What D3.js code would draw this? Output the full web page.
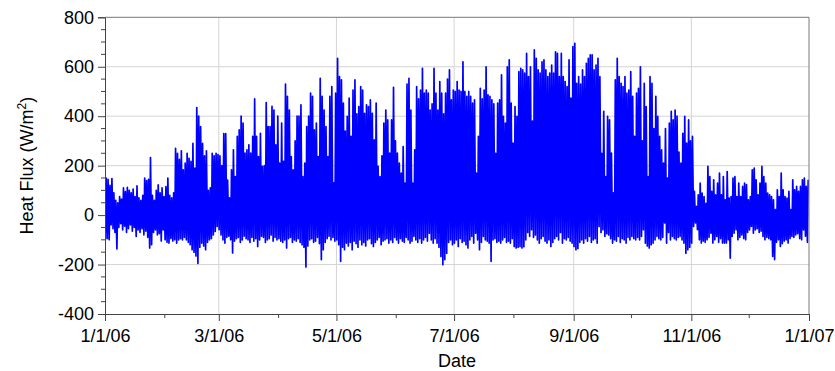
<!DOCTYPE html>
<html><head><meta charset="utf-8">
<script src="https://cdn.jsdelivr.net/npm/d3@7"></script>
<style>body{margin:0;background:#fff} svg{display:block}</style>
</head><body><svg id="c" width="835" height="371"></svg>
<script>
// Daily maximum heat flux (W/m2), 1/1/06 .. 12/31/06
const dailyMax = [
 // Jan
 150,145,120,148,90,60,50,75,65,110, 95,112,100,90,105,75,118,70,60,80, 150,140,145,233,80,60,100,122,90,110, 75,
 // Feb
 115,150,80,70,90,270,250,225,260,183, 210,250,230,217,290,190,435,400,358,290, 240,260,100,110,250,240,250,245,
 // Mar
 240,200,330,330,142,70,183,264,156,318, 345,400,372,251,264,284,251,318,470,318, 237,331,197,200,455,358,358,440,425,284, 400,
 // Apr
 210,372,217,530,480,425,237,183,300,400, 400,446,156,210,358,400,493,480,345,372, 237,553,480,425,358,237,480,520,130,493,
 // May
 634,560,547,453,340,399,473,318,506,547, 410,439,520,506,412,446,439,466,412,304, 453,197,156,240,372,425,385,251,385,517, 300,
 // Jun
 251,210,170,277,129,530,553,425,129,264, 520,470,506,594,493,506,493,425,450,594, 493,425,540,493,410,493,550,587,466,506,
 // Jul
 500,540,506,500,620,500,480,500,480,453, 466,170,318,513,470,506,600,486,480,466, 450,250,453,466,567,399,372,600,628,453, 291,
 // Aug
 439,399,580,594,587,574,654,560,600,380, 668,634,587,574,620,628,587,560,574,607, 574,660,654,560,654,560,540,520,628,473, 681,
 // Sep
 695,533,560,530,587,560,614,634,648,648, 587,607,634,560,250,420,156,399,385,251, 90,547,634,560,533,520,560,493,506,580,
 // Oct
 480,318,493,513,600,300,533,439,156,560, 533,350,480,399,318,264,210,350,150,372, 420,385,425,400,255,210,331,399,291,385, 300,
 // Nov
 318,96,35,82,129,89,75,48,197,156, 96,143,82,129,170,82,156,62,176,69, 75,150,156,75,129,75,116,129,123,62,
 // Dec
 75,183,190,143,82,129,197,156,129,89, 82,75,62,22,102,75,170,102,75,69, 96,22,143,102,116,96,116,143,150,116, 143
];
// Daily minimum heat flux (W/m2)
const dailyMin = [
 // Jan
 -100,-95,-100,-40,-55,-70,-137,-50,-35,-60, -45,-70,-55,-40,-65,-50,-86,-60,-70,-55, -80,-65,-90,-133,-120,-70,-60,-80,-75,-105, -60,
 // Feb
 -100,-110,-113,-95,-105,-100,-113,-100,-95,-100, -90,-100,-110,-120,-140,-150,-165,-195,-130,-113, -125,-140,-110,-100,-95,-80,-66,-46,
 // Mar
 -59,-80,-100,-113,-90,-85,-100,-153,-105,-95, -90,-110,-100,-85,-95,-100,-110,-90,-105,-95, -127,-100,-85,-90,-110,-100,-95,-80,-105,-90, -100,
 // Apr
 -95,-105,-110,-100,-133,-95,-90,-110,-100,-105, -95,-110,-120,-130,-210,-125,-100,-95,-110,-105, -90,-115,-180,-140,-110,-95,-85,-100,-90,-105,
 // May
 -100,-120,-187,-130,-140,-113,-125,-110,-140,-105, -115,-130,-100,-120,-110,-125,-100,-95,-115,-127, -110,-100,-90,-120,-105,-100,-95,-113,-100,-110, -90,
 // Jun
 -100,-113,-95,-105,-110,-90,-100,-113,-105,-86, -100,-110,-95,-113,-100,-90,-105,-73,-100,-113, -95,-113,-130,-167,-200,-180,-154,-110,-100,-120,
 // Jul
 -113,-100,-127,-95,-110,-105,-120,-133,-100,-86, -113,-73,-100,-140,-110,-86,-100,-105,-113,-187, -100,-95,-110,-105,-113,-100,-90,-110,-105,-113, -95,
 // Aug
 -127,-133,-130,-127,-133,-128,-100,-70,-86,-59, -90,-80,-100,-113,-95,-86,-105,-113,-100,-127, -110,-95,-86,-100,-70,-113,-95,-100,-90,-105, -113,
 // Sep
 -127,-140,-135,-110,-100,-113,-95,-105,-86,-110, -100,-95,-113,-46,-70,-59,-86,-75,-80,-95, -113,-100,-105,-86,-110,-95,-100,-113,-90,-100,
 // Oct
 -86,-95,-100,-90,-100,-86,-59,-113,-125,-133, -120,-113,-100,-86,-95,-100,-90,-32,-113,-70, -100,-86,-95,-100,-90,-86,-100,-113,-154,-140, -130,
 // Nov
 -113,-46,-32,-59,-100,-113,-105,-110,-100,-90, -73,-113,-100,-86,-110,-95,-113,-113,-113,-100, -174,-86,-73,-59,-100,-90,-80,-95,-100,-70,
 // Dec
 -60,-46,-73,-60,-55,-70,-65,-86,-100,-90, -95,-100,-167,-180,-110,-100,-127,-115,-105,-100, -113,-95,-86,-90,-80,-75,-95,-100,-60,-85, -110
];
const yTickValues = [-400, -200, 0, 200, 400, 600, 800];
const xTickDates = ["2006-01-01","2006-03-01","2006-05-01","2006-07-01","2006-09-01","2006-11-01","2007-01-01"];
const xTickLabels = ["1/1/06","3/1/06","5/1/06","7/1/06","9/1/06","11/1/06","1/1/07"];
const xMinorDates = ["2006-02-01","2006-04-01","2006-06-01","2006-08-01","2006-10-01","2006-12-01"];
const yLabel = "Heat Flux (W/m";
const xLabel = "Date";

(function () {
const svg = d3.select("#c");
const pL = 105, pR = 809, pT = 17.3, pB = 314;
const font = "'Liberation Sans', Arial, sans-serif";
const start = new Date(Date.UTC(2006, 0, 1));
const x = d3.scaleUtc().domain([start, new Date(Date.UTC(2007, 0, 1))]).range([pL, pR]);
const y = d3.scaleLinear().domain([-400, 800]).range([pB, pT]);

// grid
const g = svg.append("g");
g.selectAll("line.hg").data(yTickValues.filter(v => v > -400 && v < 800)).join("line")
  .attr("x1", pL).attr("x2", pR).attr("y1", d => y(d)).attr("y2", d => y(d))
  .attr("stroke", "#d4d4d4").attr("stroke-width", 1);
g.selectAll("line.vg").data(xTickDates.slice(1, -1)).join("line")
  .attr("x1", d => x(new Date(d))).attr("x2", d => x(new Date(d)))
  .attr("y1", pT).attr("y2", pB)
  .attr("stroke", "#d4d4d4").attr("stroke-width", 1);

// data path: for each day a nighttime min and a midday max
const pts = [];
dailyMin.forEach((v, i) => {
  const day = d3.utcDay.offset(start, i);
  pts.push([d3.utcHour.offset(day, 4), v]);
  pts.push([d3.utcHour.offset(day, 14), dailyMax[i]]);
});
svg.append("clipPath").attr("id", "clip").append("rect")
  .attr("x", pL).attr("y", pT).attr("width", pR - pL).attr("height", pB - pT);
svg.append("path").datum(pts)
  .attr("clip-path", "url(#clip)")
  .attr("fill", "none").attr("stroke", "#0000ff").attr("stroke-width", 1.7)
  .attr("stroke-linejoin", "round")
  .attr("d", d3.line().x(d => x(d[0])).y(d => y(d[1])));

// frame (top/right)
svg.append("line").attr("x1", pL).attr("x2", pR).attr("y1", pT).attr("y2", pT).attr("stroke", "#7a7a7a");
svg.append("line").attr("x1", pR).attr("x2", pR).attr("y1", pT).attr("y2", pB).attr("stroke", "#7a7a7a");

// y axis
const yAxis = d3.axisLeft(y).tickValues(yTickValues).tickFormat(d => String(d)).tickSize(7).tickPadding(4);
const ya = svg.append("g").attr("transform", `translate(${pL},0)`).call(yAxis);
ya.selectAll("text").attr("font-family", font).attr("font-size", 18).attr("fill", "#000");
ya.select(".domain").attr("stroke", "#444");
ya.selectAll(".tick line").attr("stroke", "#444");
const yMinor = d3.range(-400, 801, 50).filter(v => v % 200 !== 0);
svg.append("g").selectAll("line").data(yMinor).join("line")
  .attr("x1", pL - 4).attr("x2", pL).attr("y1", d => y(d)).attr("y2", d => y(d)).attr("stroke", "#444");

// x axis
const xAxis = d3.axisBottom(x).tickValues(xTickDates.map(d => new Date(d)))
  .tickFormat((d, i) => xTickLabels[i]).tickSize(7).tickPadding(8);
const xa = svg.append("g").attr("transform", `translate(0,${pB})`).call(xAxis);
xa.selectAll("text").attr("font-family", font).attr("font-size", 18).attr("fill", "#000");
xa.select(".domain").attr("stroke", "#444");
xa.selectAll(".tick line").attr("stroke", "#444");
svg.append("g").selectAll("line").data(xMinorDates).join("line")
  .attr("x1", d => x(new Date(d))).attr("x2", d => x(new Date(d)))
  .attr("y1", pB).attr("y2", pB + 4).attr("stroke", "#444");

// titles
svg.append("text").attr("x", (pL + pR) / 2).attr("y", 367)
  .attr("text-anchor", "middle").attr("font-family", font).attr("font-size", 18).text(xLabel);
const yt = svg.append("text").attr("transform", `translate(33,${(pT + pB) / 2}) rotate(-90)`)
  .attr("text-anchor", "middle").attr("font-family", font).attr("font-size", 18);
yt.append("tspan").text(yLabel);
yt.append("tspan").attr("font-size", 12).attr("dy", -7).text("2");
yt.append("tspan").attr("dy", 7).text(")");
})();
</script>
</body></html>
